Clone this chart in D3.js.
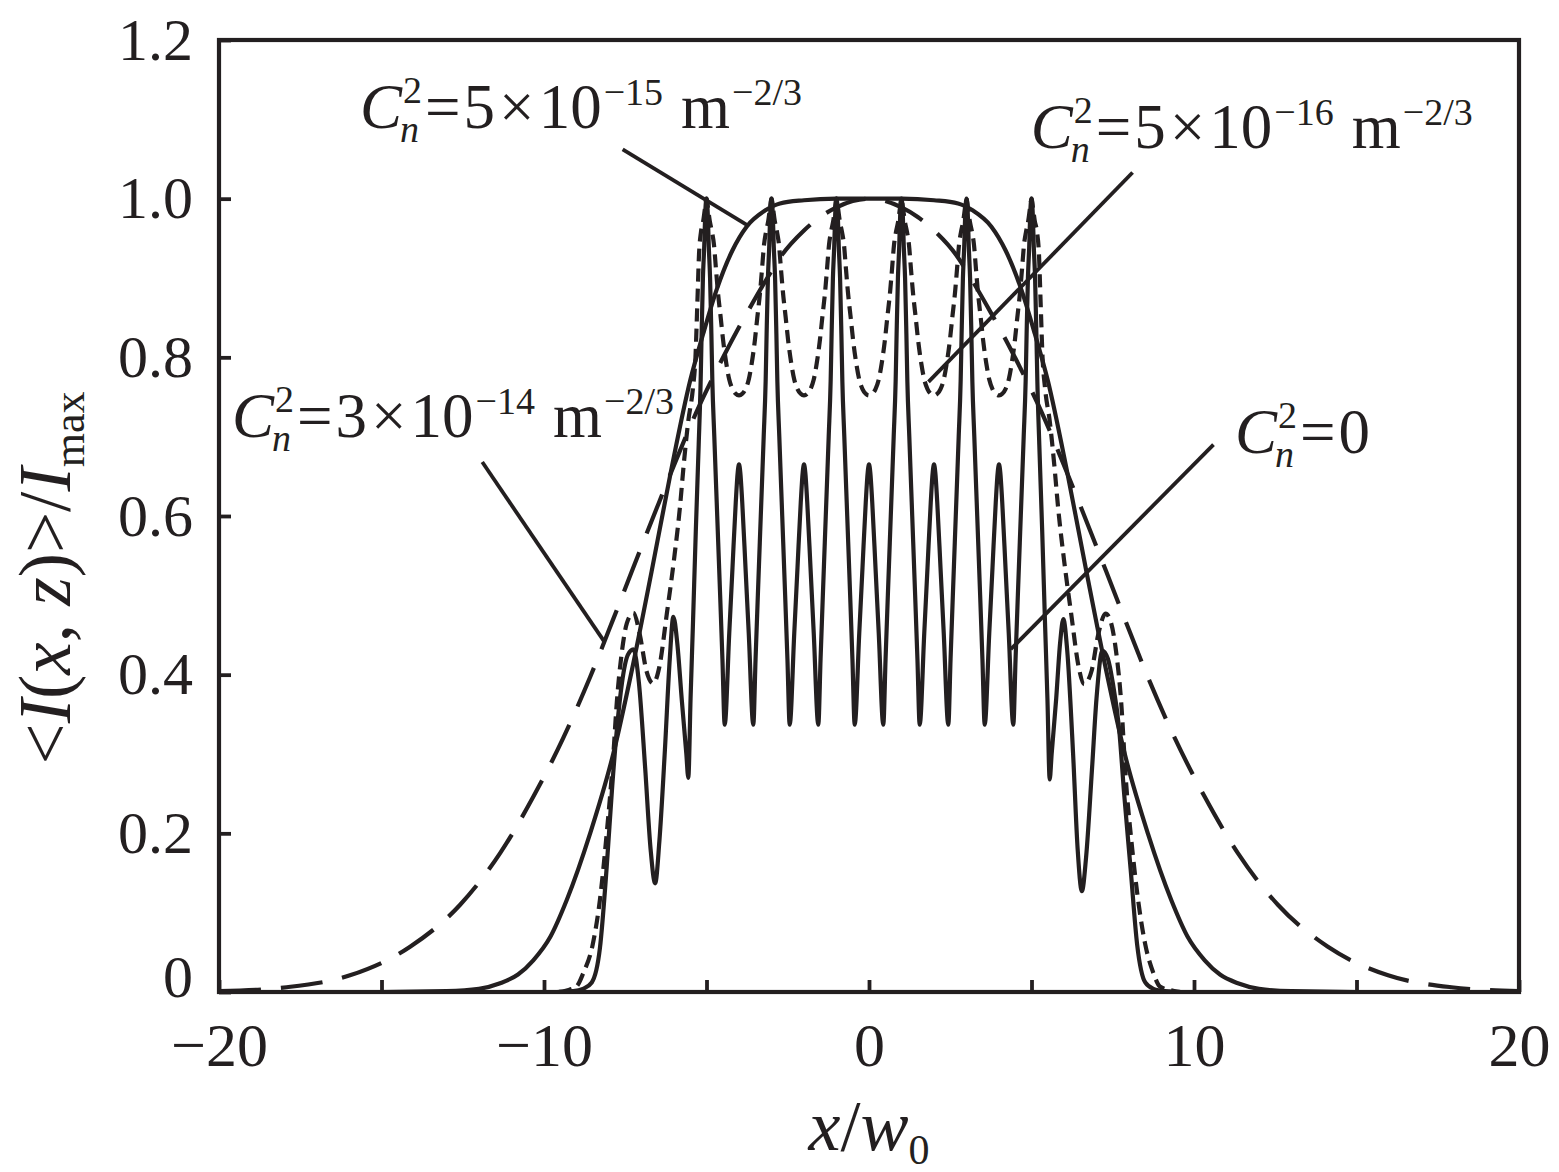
<!DOCTYPE html>
<html><head><meta charset="utf-8">
<script src="https://cdn.jsdelivr.net/npm/d3@7"></script>
<style>
html,body{margin:0;padding:0;background:#fff;}
svg{display:block;}
text{font-family:"Liberation Serif","Times New Roman",serif;fill:#231f20;}
</style></head><body>
<svg id="chart" width="1559" height="1172"></svg>
<script>
// ---------------- DATA ----------------
const xTicks = [-20, -15, -10, -5, 0, 5, 10, 15, 20];
const xTickLabels = [-20, -10, 0, 10, 20];
const yTicks = [0, 0.2, 0.4, 0.6, 0.8, 1.0, 1.2];
const yTickLabels = ["0", "0.2", "0.4", "0.6", "0.8", "1.0", "1.2"];

// C_n^2 = 0 (solid, strongly oscillating)
const seriesC0 = [
 [-20,0],[-12,0],[-9.6,0],[-9.1,0.001],[-8.8,0.004],[-8.53,0.012],[-8.28,0.055],[-8.07,0.158],[-7.9,0.26],[-7.76,0.33],[-7.6,0.39],[-7.42,0.425],[-7.25,0.432],[-7.08,0.39],[-6.89,0.284],[-6.72,0.18],[-6.58,0.137],[-6.45,0.19],[-6.28,0.305],[-6.13,0.42],[-6.02,0.473],[-5.9,0.44],[-5.76,0.368],[-5.62,0.30],[-5.56,0.27],[-5.49,0.37],[-5.42,0.46],[-5.33,0.58],[-5.24,0.69],[-5.18,0.77],[-5.15,0.83],[-5.11,0.90],[-5.07,0.94],[-5.04,0.98],[-5,1.0],
 [-4.96,0.98],[-4.93,0.94],[-4.89,0.90],[-4.85,0.83],[-4.82,0.77],[-4.76,0.70],[-4.67,0.60],[-4.58,0.50],[-4.51,0.42],[-4.44,0.337],[-4.30,0.452],[-4.20,0.535],[-4.10,0.617],[-4.04,0.655],[-4.00,0.665],[-3.96,0.655],[-3.90,0.617],[-3.80,0.535],[-3.70,0.452],[-3.56,0.337],[-3.49,0.42],[-3.42,0.50],[-3.33,0.60],[-3.24,0.70],[-3.18,0.77],[-3.15,0.83],[-3.11,0.90],[-3.07,0.94],[-3.04,0.98],[-3.00,1.0],
 [-2.96,0.98],[-2.93,0.94],[-2.89,0.90],[-2.85,0.83],[-2.82,0.77],[-2.76,0.70],[-2.67,0.60],[-2.58,0.50],[-2.51,0.42],[-2.44,0.337],[-2.30,0.452],[-2.20,0.535],[-2.10,0.617],[-2.04,0.655],[-2.00,0.665],[-1.96,0.655],[-1.90,0.617],[-1.80,0.535],[-1.70,0.452],[-1.56,0.337],[-1.49,0.42],[-1.42,0.50],[-1.33,0.60],[-1.24,0.70],[-1.18,0.77],[-1.15,0.83],[-1.11,0.90],[-1.07,0.94],[-1.04,0.98],[-1.00,1.0],
 [-0.96,0.98],[-0.93,0.94],[-0.89,0.90],[-0.85,0.83],[-0.82,0.77],[-0.76,0.70],[-0.67,0.60],[-0.58,0.50],[-0.51,0.42],[-0.44,0.337],[-0.30,0.452],[-0.20,0.535],[-0.10,0.617],[-0.04,0.655],[0.00,0.665],[0.04,0.655],[0.10,0.617],[0.20,0.535],[0.30,0.452],[0.44,0.337],[0.51,0.42],[0.58,0.50],[0.67,0.60],[0.76,0.70],[0.82,0.77],[0.85,0.83],[0.89,0.90],[0.93,0.94],[0.96,0.98],[1.00,1.0],
 [1.04,0.98],[1.07,0.94],[1.11,0.90],[1.15,0.83],[1.18,0.77],[1.24,0.70],[1.33,0.60],[1.42,0.50],[1.49,0.42],[1.56,0.337],[1.70,0.452],[1.80,0.535],[1.90,0.617],[1.96,0.655],[2.00,0.665],[2.04,0.655],[2.10,0.617],[2.20,0.535],[2.30,0.452],[2.44,0.337],[2.51,0.42],[2.58,0.50],[2.67,0.60],[2.76,0.70],[2.82,0.77],[2.85,0.83],[2.89,0.90],[2.93,0.94],[2.96,0.98],[3.00,1.0],
 [3.04,0.98],[3.07,0.94],[3.11,0.90],[3.15,0.83],[3.18,0.77],[3.24,0.70],[3.33,0.60],[3.42,0.50],[3.49,0.42],[3.56,0.337],[3.70,0.452],[3.80,0.535],[3.90,0.617],[3.96,0.655],[4.00,0.665],[4.04,0.655],[4.10,0.617],[4.20,0.535],[4.30,0.452],[4.44,0.337],[4.51,0.42],[4.58,0.50],[4.67,0.60],[4.76,0.70],[4.82,0.77],[4.85,0.83],[4.89,0.90],[4.93,0.94],[4.96,0.98],[5.00,1.0],
 [5.04,0.98],[5.07,0.94],[5.11,0.90],[5.15,0.83],[5.18,0.77],[5.24,0.69],[5.33,0.58],[5.42,0.46],[5.49,0.37],[5.56,0.268],[5.62,0.30],[5.76,0.37],[5.88,0.44],[5.98,0.47],[6.1,0.43],[6.28,0.30],[6.42,0.18],[6.55,0.127],[6.68,0.17],[6.86,0.28],[7.0,0.37],[7.18,0.43],[7.35,0.42],[7.5,0.39],[7.7,0.33],[7.85,0.25],[8.05,0.155],[8.25,0.06],[8.5,0.012],[8.75,0.004],[9.1,0.001],[9.6,0],[12,0],[20,0]
];

// C_n^2 = 5e-16 (short dashes)
const series5e16 = [
 [-20,0],[-12,0],[-9.6,0],[-9.3,0.002],[-9.0,0.007],[-8.79,0.024],[-8.5,0.06],[-8.28,0.116],[-8.07,0.2],[-7.87,0.297],[-7.76,0.365],[-7.6,0.43],[-7.45,0.465],[-7.25,0.478],[-7.05,0.45],[-6.85,0.405],[-6.64,0.389],[-6.45,0.41],[-6.22,0.477],[-6.0,0.545],[-5.82,0.61],[-5.7,0.665],[-5.56,0.72],[-5.42,0.76],[-5.34,0.80],[-5.28,0.87],[-5.23,0.93],[-5.17,0.958],[-5.1,0.972],[-5.04,0.99],[-5.0,1.0],
 [-4.96,0.99],[-4.9,0.972],[-4.83,0.958],[-4.77,0.942],[-4.71,0.912],[-4.65,0.883],[-4.56,0.849],[-4.49,0.822],[-4.39,0.792],[-4.3,0.772],[-4.2,0.76],[-4.1,0.754],[-4.0,0.752],[-3.9,0.754],[-3.8,0.76],[-3.7,0.772],[-3.61,0.792],[-3.51,0.822],[-3.44,0.849],[-3.35,0.883],[-3.29,0.912],[-3.23,0.942],[-3.17,0.958],[-3.1,0.972],[-3.04,0.99],[-3.0,1.0],
 [-2.96,0.99],[-2.9,0.972],[-2.83,0.958],[-2.77,0.942],[-2.71,0.912],[-2.65,0.883],[-2.56,0.849],[-2.49,0.822],[-2.39,0.792],[-2.3,0.772],[-2.2,0.76],[-2.1,0.754],[-2.0,0.752],[-1.9,0.754],[-1.8,0.76],[-1.7,0.772],[-1.61,0.792],[-1.51,0.822],[-1.44,0.849],[-1.35,0.883],[-1.29,0.912],[-1.23,0.942],[-1.17,0.958],[-1.1,0.972],[-1.04,0.99],[-1.0,1.0],
 [-0.96,0.99],[-0.9,0.972],[-0.83,0.958],[-0.77,0.942],[-0.71,0.912],[-0.65,0.883],[-0.56,0.849],[-0.49,0.822],[-0.39,0.792],[-0.3,0.772],[-0.2,0.76],[-0.1,0.754],[0.0,0.752],[0.1,0.754],[0.2,0.76],[0.3,0.772],[0.39,0.792],[0.49,0.822],[0.56,0.849],[0.65,0.883],[0.71,0.912],[0.77,0.942],[0.83,0.958],[0.9,0.972],[0.96,0.99],[1.0,1.0],
 [1.04,0.99],[1.1,0.972],[1.17,0.958],[1.23,0.942],[1.29,0.912],[1.35,0.883],[1.44,0.849],[1.51,0.822],[1.61,0.792],[1.7,0.772],[1.8,0.76],[1.9,0.754],[2.0,0.752],[2.1,0.754],[2.2,0.76],[2.3,0.772],[2.39,0.792],[2.49,0.822],[2.56,0.849],[2.65,0.883],[2.71,0.912],[2.77,0.942],[2.83,0.958],[2.9,0.972],[2.96,0.99],[3.0,1.0],
 [3.04,0.99],[3.1,0.972],[3.17,0.958],[3.23,0.942],[3.29,0.912],[3.35,0.883],[3.44,0.849],[3.51,0.822],[3.61,0.792],[3.7,0.772],[3.8,0.76],[3.9,0.754],[4.0,0.752],[4.1,0.754],[4.2,0.76],[4.3,0.772],[4.39,0.792],[4.49,0.822],[4.56,0.849],[4.65,0.883],[4.71,0.912],[4.77,0.942],[4.83,0.958],[4.9,0.972],[4.96,0.99],[5.0,1.0],
 [5.04,0.99],[5.1,0.972],[5.17,0.958],[5.23,0.93],[5.28,0.87],[5.34,0.80],[5.42,0.76],[5.56,0.72],[5.7,0.665],[5.82,0.61],[6.0,0.545],[6.22,0.477],[6.45,0.41],[6.62,0.388],[6.85,0.405],[7.05,0.45],[7.28,0.477],[7.45,0.465],[7.6,0.43],[7.76,0.365],[7.9,0.27],[8.1,0.18],[8.3,0.11],[8.5,0.06],[8.75,0.024],[8.95,0.007],[9.3,0.002],[9.6,0],[12,0],[20,0]
];

// C_n^2 = 5e-15 (smooth solid, flat top)
const series5e15 = [
 [-20,0],[-15,0],[-13,0.001],[-12,0.004],[-11.35,0.011],[-10.8,0.022],[-10.33,0.04],[-9.8,0.07],[-9.3,0.116],[-8.58,0.2],[-7.87,0.30],[-7.3,0.405],[-6.69,0.53],[-6.1,0.655],[-5.5,0.771],[-5.1,0.83],[-4.69,0.885],[-4.2,0.935],[-3.76,0.965],[-3.2,0.985],[-2.74,0.994],[-2,0.998],[-1,1.0],[0,1.0],[1,1.0],[2,0.998],[2.74,0.994],[3.2,0.985],[3.76,0.965],[4.2,0.935],[4.69,0.885],[5.1,0.83],[5.5,0.771],[6.1,0.655],[6.69,0.53],[7.3,0.405],[7.87,0.30],[8.58,0.2],[9.3,0.116],[9.8,0.07],[10.33,0.04],[10.8,0.022],[11.35,0.011],[12,0.004],[13,0.001],[15,0],[20,0]
];

// C_n^2 = 3e-14 (long dashes, broad)
const series3e14 = [
 [-20,0.001],[-17.92,0.006],[-15.97,0.021],[-14.12,0.057],[-12.58,0.11],[-11.35,0.175],[-10.33,0.246],[-9.41,0.32],[-8.58,0.397],[-7.87,0.47],[-7.3,0.53],[-6.53,0.61],[-5.92,0.672],[-5.3,0.732],[-4.65,0.787],[-4.08,0.832],[-3.74,0.857],[-3.13,0.90],[-2.7,0.928],[-2.0,0.96],[-1.5,0.977],[-1.0,0.989],[-0.5,0.997],[0,1.0],
 [0.5,0.997],[1.0,0.989],[1.5,0.977],[2.0,0.96],[2.7,0.928],[3.13,0.90],[3.74,0.857],[4.08,0.832],[4.65,0.787],[5.3,0.732],[5.92,0.672],[6.53,0.61],[7.3,0.53],[7.87,0.47],[8.58,0.397],[9.41,0.32],[10.33,0.246],[11.35,0.175],[12.58,0.11],[14.12,0.057],[15.97,0.021],[17.92,0.006],[20,0.001]
];

// annotation leader lines (data coordinates: from label to curve)
const leaders = [
 [[-7.58, 1.062], [-3.76, 0.967]],
 [[8.11, 1.033], [1.83, 0.769]],
 [[-11.9, 0.668], [-8.15, 0.442]],
 [[10.6, 0.69], [4.36, 0.432]]
];

// curve labels: anchor (data coords) and rich-text parts
const labelAnchors = [[-15.66, 1.089], [4.975, 1.0635], [-19.6, 0.6996], [11.26, 0.679]];
const labelExponents = ["−15", "−16", "−14"];
const labelMantissas = ["5", "5", "3"];

// ---------------- CHART ----------------
const svg = d3.select('#chart');
const ink = '#231f20';
const x = d3.scaleLinear().domain([-20, 20]).range([219, 1519]);
const y = d3.scaleLinear().domain([0, 1.2]).range([992, 40]);

svg.append('defs').append('clipPath').attr('id', 'clip')
  .append('rect').attr('x', x(-20)).attr('y', y(1.2)).attr('width', x(20) - x(-20)).attr('height', y(0) - y(1.2));

const line = d3.line().x(d => x(d[0])).y(d => y(d[1])).curve(d3.curveMonotoneX);

const plot = svg.append('g').attr('clip-path', 'url(#clip)');
const styles = [
  {data: series3e14, dash: '42,20'},
  {data: series5e15, dash: null},
  {data: series5e16, dash: '13,7'},
  {data: seriesC0, dash: null}
];
styles.forEach(s => {
  plot.append('path').datum(s.data).attr('d', line)
    .attr('fill', 'none').attr('stroke', ink).attr('stroke-width', 4.2)
    .attr('stroke-linejoin', 'round')
    .attr('stroke-dasharray', s.dash);
});

// leader lines
leaders.forEach(l => {
  svg.append('line').attr('x1', x(l[0][0])).attr('y1', y(l[0][1]))
    .attr('x2', x(l[1][0])).attr('y2', y(l[1][1]))
    .attr('stroke', ink).attr('stroke-width', 3.8);
});

// axes
const gx = svg.append('g').attr('transform', `translate(0,${y(0)})`)
  .call(d3.axisBottom(x).tickValues(xTicks).tickSizeInner(-12).tickSizeOuter(0).tickPadding(30)
    .tickFormat(d => xTickLabels.includes(d) ? d3.format('d')(d) : ''));
gx.select('.domain').remove();
gx.selectAll('.tick line').attr('stroke', ink).attr('stroke-width', 3.8);
gx.selectAll('.tick text').attr('font-size', 62).attr('fill', ink)
  .style('font-family', '"Liberation Serif","Times New Roman",serif');

const gy = svg.append('g').attr('transform', `translate(${x(-20)},0)`)
  .call(d3.axisLeft(y).tickValues(yTicks).tickSizeInner(-12).tickSizeOuter(0).tickPadding(26)
    .tickFormat((d, i) => yTickLabels[i]));
gy.select('.domain').remove();
gy.selectAll('.tick line').attr('stroke', ink).attr('stroke-width', 3.8);
gy.selectAll('.tick text').attr('font-size', 60).attr('fill', ink)
  .style('font-family', '"Liberation Serif","Times New Roman",serif');
// lift the bottom "0" a little so it clears the x labels
gy.selectAll('.tick text').filter(d => d === 0).attr('dy', '0.07em');

// frame
svg.append('rect').attr('x', x(-20)).attr('y', y(1.2))
  .attr('width', x(20) - x(-20)).attr('height', y(0) - y(1.2))
  .attr('fill', 'none').attr('stroke', ink).attr('stroke-width', 4.2);

// rich text helper
function richText(g, x0, y0, parts, size, small) {
  let cx = x0;
  parts.forEach(p => {
    cx += (p.gap || 0);
    if (p.sup !== undefined && p.sub !== undefined) {
      const a = g.append('text').attr('x', cx + (p.supDx || 0)).attr('y', y0 - size * 0.40)
        .attr('font-size', small).text(p.sup);
      const b = g.append('text').attr('x', cx).attr('y', y0 + size * 0.22)
        .attr('font-size', small).attr('font-style', 'italic').text(p.sub);
      cx += Math.max(a.node().getComputedTextLength() + (p.supDx || 0), b.node().getComputedTextLength());
    } else if (p.sup !== undefined) {
      const a = g.append('text').attr('x', cx).attr('y', y0 - size * 0.37)
        .attr('font-size', small).text(p.sup);
      cx += a.node().getComputedTextLength();
    } else {
      const t = g.append('text').attr('x', cx).attr('y', y0).attr('font-size', size)
        .attr('font-style', p.it ? 'italic' : null).text(p.t);
      cx += t.node().getComputedTextLength();
    }
  });
}

const labels = svg.append('g');
const cn2 = [{t: 'C', it: true}, {sup: '2', sub: 'n', supDx: 3, gap: -2}, {t: '=', gap: 3}];
for (let i = 0; i < 3; i++) {
  const a = labelAnchors[i];
  richText(labels, x(a[0]), y(a[1]), cn2.concat([
    {t: labelMantissas[i], gap: 3}, {t: '×', gap: 4}, {t: '10', gap: 4},
    {sup: labelExponents[i], gap: 2}, {t: 'm', gap: 18}, {sup: '−2/3', gap: 2}
  ]), 63, 38);
}
richText(labels, x(labelAnchors[3][0]), y(labelAnchors[3][1]), cn2.concat([{t: '0', gap: 3}]), 63, 38);

// axis titles
const xt = svg.append('text').attr('x', x(0)).attr('y', 1150).attr('text-anchor', 'middle').attr('font-size', 72);
xt.append('tspan').attr('font-style', 'italic').text('x');
xt.append('tspan').text('/');
xt.append('tspan').attr('font-style', 'italic').text('w');
xt.append('tspan').attr('font-size', 42).attr('dy', 14).text('0');

const yt = svg.append('text').attr('transform', 'translate(70,578) rotate(-90)')
  .attr('text-anchor', 'middle').attr('font-size', 73);
yt.append('tspan').text('<');
yt.append('tspan').attr('font-style', 'italic').text('I');
yt.append('tspan').text('(');
yt.append('tspan').attr('font-style', 'italic').text('x');
yt.append('tspan').text(', ');
yt.append('tspan').attr('font-style', 'italic').text('z');
yt.append('tspan').text(')>/');
yt.append('tspan').attr('font-style', 'italic').text('I');
yt.append('tspan').attr('font-size', 44).attr('dy', 14).text('max');
</script>
</body></html>
